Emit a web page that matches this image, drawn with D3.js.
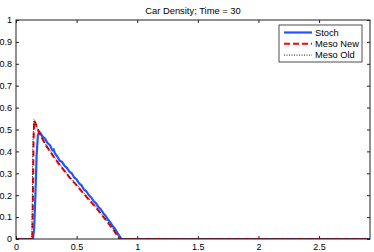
<!DOCTYPE html>
<html>
<head>
<meta charset="utf-8">
<script src="https://cdn.jsdelivr.net/npm/d3@7"></script>
<style>
  body { margin: 0; background: #fff; }
  text { font-family: "Liberation Sans", Arial, sans-serif; }
</style>
</head>
<body>
<div id="chart"></div>
<script>
// Data
const title = "Car Density; Time = 30";
const seriesNames = ["Stoch", "Meso New", "Meso Old"];
const xTicks = [0, 0.5, 1, 1.5, 2, 2.5];
const yTicks = [0, 0.1, 0.2, 0.3, 0.4, 0.5, 0.6, 0.7, 0.8, 0.9, 1];

const stochX = [0, 0.14, 0.15, 0.16, 0.17, 0.18, 0.19, 0.2, 0.22, 0.24, 0.26, 0.28, 0.3, 0.31, 0.32, 0.34, 0.36, 0.38, 0.4, 0.42, 0.44, 0.46, 0.48, 0.5, 0.52, 0.54, 0.56, 0.58, 0.6, 0.62, 0.64, 0.66, 0.68, 0.7, 0.72, 0.74, 0.76, 0.78, 0.8, 0.82, 0.84, 0.86, 0.87, 2.92];
const stochY = [0, 0, 0.05, 0.2, 0.38, 0.47, 0.49, 0.485, 0.468, 0.458, 0.438, 0.428, 0.405, 0.409, 0.392, 0.377, 0.358, 0.352, 0.334, 0.325, 0.308, 0.3, 0.281, 0.272, 0.254, 0.245, 0.226, 0.218, 0.201, 0.19, 0.173, 0.163, 0.146, 0.135, 0.118, 0.105, 0.088, 0.075, 0.057, 0.044, 0.024, 0.008, 0, 0];

const mesoNewX = [0, 0.135, 0.14, 0.145, 0.15, 0.16, 0.18, 0.2, 0.25, 0.3, 0.35, 0.4, 0.45, 0.5, 0.55, 0.6, 0.65, 0.7, 0.75, 0.8, 0.83, 0.85, 0.86, 2.92];
const mesoNewY = [0, 0, 0.2, 0.45, 0.54, 0.53, 0.5, 0.475, 0.425, 0.384, 0.345, 0.31, 0.275, 0.245, 0.212, 0.18, 0.15, 0.115, 0.08, 0.045, 0.02, 0.003, 0, 0];

const mesoOldX = [0, 0.13, 0.135, 0.14, 0.147, 0.16, 0.18, 0.2, 0.25, 0.3, 0.35, 0.4, 0.45, 0.5, 0.55, 0.6, 0.65, 0.7, 0.75, 0.8, 0.83, 0.85, 0.865, 2.92];
const mesoOldY = [0, 0, 0.2, 0.45, 0.545, 0.532, 0.502, 0.478, 0.428, 0.388, 0.349, 0.314, 0.279, 0.249, 0.216, 0.184, 0.154, 0.119, 0.084, 0.049, 0.024, 0.006, 0, 0];

const W = 374, H = 252;
const margin = { top: 20, right: 4, bottom: 13, left: 16 },
    width = W - margin.left - margin.right,
    height = H - margin.top - margin.bottom;

const svg = d3.select("#chart").append("svg")
    .attr("width", W)
    .attr("height", H);

const g = svg.append("g")
    .attr("transform", `translate(${margin.left},${margin.top})`);

const x = d3.scaleLinear().domain([0, 2.92]).range([0, width]);
const y = d3.scaleLinear().domain([0, 1]).range([height, 0]);

// Title
svg.append("text")
    .attr("x", margin.left + width / 2)
    .attr("y", 14)
    .attr("text-anchor", "middle")
    .style("font-size", "9.4px")
    .text(title);

// Lines
const line = d3.line().x(d => x(d[0])).y(d => y(d[1]));
const zip = (xs, ys) => xs.map((v, i) => [v, ys[i]]);

const styles = [
    { color: "#2255ff", width: 2.2, dash: null },
    { color: "#ff0000", width: 2, dash: "6,3" },
    { color: "#111", width: 1, dash: "1,1.5" }
];
const series = [zip(stochX, stochY), zip(mesoNewX, mesoNewY), zip(mesoOldX, mesoOldY)];

svg.append("clipPath").attr("id", "clip")
    .append("rect").attr("x", 0).attr("y", -2).attr("width", width).attr("height", height + 2);

g.append("g").attr("clip-path", "url(#clip)")
    .selectAll("path")
    .data(series)
    .enter()
    .append("path")
    .attr("d", line)
    .attr("fill", "none")
    .attr("stroke", (d, i) => styles[i].color)
    .attr("stroke-width", (d, i) => styles[i].width)
    .attr("stroke-dasharray", (d, i) => styles[i].dash);

// Axes, MATLAB style: ticks inward on all sides
const axisColor = "#222";
function styleAxis(sel) {
    sel.select(".domain").remove();
    sel.selectAll("line").attr("stroke", axisColor);
    sel.selectAll("text").style("font-size", "9px").attr("fill", "#000");
}

g.append("g")
    .attr("transform", `translate(0,${height})`)
    .call(d3.axisBottom(x).tickValues(xTicks).tickFormat(d3.format("")).tickSize(-3).tickPadding(5))
    .call(styleAxis);

g.append("g")
    .call(d3.axisTop(x).tickValues(xTicks).tickFormat("").tickSize(-3))
    .call(styleAxis);

g.append("g")
    .call(d3.axisLeft(y).tickValues(yTicks).tickFormat(d3.format("")).tickSize(-3).tickPadding(4))
    .call(styleAxis);

g.append("g")
    .attr("transform", `translate(${width},0)`)
    .call(d3.axisRight(y).tickValues(yTicks).tickFormat("").tickSize(-3))
    .call(styleAxis);

g.append("rect")
    .attr("width", width)
    .attr("height", height)
    .attr("fill", "none")
    .attr("stroke", axisColor)
    .attr("stroke-width", 1);

// Legend
const legend = svg.append("g").attr("transform", "translate(279,25)");
legend.append("rect")
    .attr("width", 83)
    .attr("height", 37)
    .attr("fill", "#fff")
    .attr("stroke", axisColor)
    .attr("stroke-width", 0.8);

const items = legend.selectAll("g.item")
    .data(seriesNames)
    .enter()
    .append("g")
    .attr("transform", (d, i) => `translate(0,${7.5 + i * 11.3})`);

items.append("line")
    .attr("x1", 5).attr("x2", 33)
    .attr("stroke", (d, i) => styles[i].color)
    .attr("stroke-width", (d, i) => styles[i].width)
    .attr("stroke-dasharray", (d, i) => styles[i].dash);

items.append("text")
    .attr("x", 36)
    .attr("dy", "0.35em")
    .style("font-size", "9.3px")
    .text(d => d);
</script>
</body>
</html>
